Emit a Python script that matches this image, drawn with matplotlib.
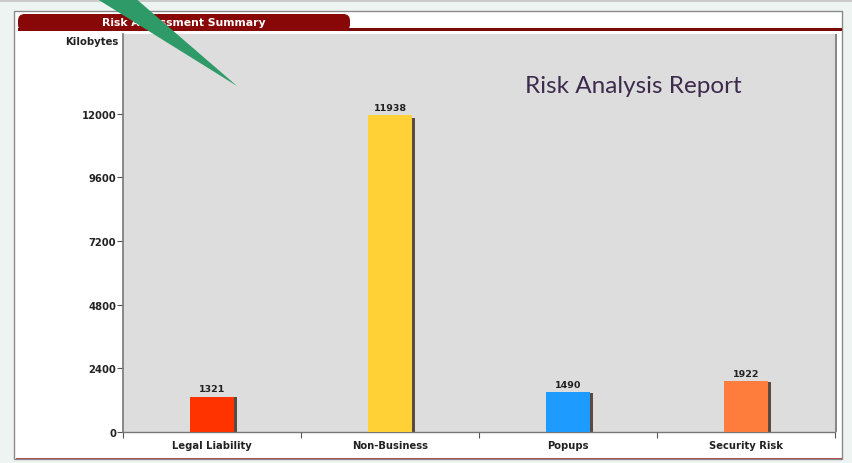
import matplotlib
matplotlib.use('Agg')
import matplotlib.pyplot as plt
from matplotlib.patches import Rectangle, FancyBboxPatch, Polygon

# 数据
categories = ['Legal Liability', 'Non-Business', 'Popups', 'Security Risk']
kilobytes = [1321, 11938, 1490, 1922]
bar_colors = ['#ff3300', '#ffd136', '#1e9bff', '#ff7d3c']
y_ticks = [0, 2400, 4800, 7200, 9600, 12000]

W, H = 852, 464
FONT = 'DejaVu Sans'
TXT = '#222222'


def px(x, y):
    """像素坐标(左上为原点) -> figure坐标"""
    return x / W, 1 - y / H


fig = plt.figure(figsize=(W / 100, H / 100), dpi=100, facecolor='#eef4f1')

# 顶部灰条
fig.patches.append(Rectangle(px(0, 3), 1, 3 / H, transform=fig.transFigure,
                             facecolor='#c9ccca', edgecolor='none', zorder=-3))

# 白色面板
x0, y0 = px(14, 460)
fig.patches.append(Rectangle((x0, y0), (842 - 14) / W, (460 - 12) / H,
                             transform=fig.transFigure, facecolor='white',
                             edgecolor='#8a8a8a', linewidth=1.0, zorder=-3))
# 底部红线
fig.patches.append(Rectangle(px(16, 460), (842 - 16) / W, 1.5 / H,
                             transform=fig.transFigure, facecolor='#b05050',
                             edgecolor='none', zorder=-2))

# 标题栏 + 红线
fig.patches.append(Rectangle(px(18, 32), (842 - 18) / W, 3 / H,
                             transform=fig.transFigure, facecolor='#7a0a0a',
                             edgecolor='none', zorder=-2))
tx, ty = px(18, 32)
fig.patches.append(FancyBboxPatch((tx, ty), (350 - 18) / W, (32 - 15) / H,
                                  boxstyle='round,pad=0,rounding_size=0.008',
                                  transform=fig.transFigure, facecolor='#880808',
                                  edgecolor='none', zorder=-2, mutation_aspect=1.8))
fig.text(*px(184, 23), 'Risk Assessment Summary', color='white', fontsize=7.8,
         fontweight='bold', family=FONT, ha='center', va='center', zorder=3)

# 绘图区
ax_l, ax_b = px(123, 433)
ax = fig.add_axes([ax_l, ax_b, (835 - 123) / W, (433 - 35) / H])
ax.set_zorder(2)
ax.set_facecolor('#dddddd')
x = list(range(len(categories)))

# 柱子阴影 + 柱子
ax.bar([i + 0.017 for i in x], [v * 0.99 for v in kilobytes], width=0.242,
       color='#5a4a40', zorder=2)
bars = ax.bar(x, kilobytes, width=0.242, color=bar_colors, zorder=3)
for i, v in enumerate(kilobytes):
    ax.annotate(str(v), (i, v), xytext=(0, 2.5), textcoords='offset points',
                ha='center', va='bottom', fontsize=6.8, fontweight='bold',
                family=FONT, color=TXT)

ax.set_xlim(-0.5, len(categories) - 0.5)
ax.set_ylim(0, 15000)
ax.set_yticks(y_ticks)
ax.set_yticklabels([str(t) for t in y_ticks], fontsize=7.2, fontweight='bold',
                   family=FONT, color=TXT)
ax.set_xticks(x)
ax.set_xticklabels(categories, fontsize=7.2, fontweight='bold',
                   family=FONT, color=TXT)
ax.tick_params(axis='x', length=0, pad=6)
ax.tick_params(axis='y', length=4, width=0.8, color='#555555', pad=1)
# 分类边界刻度
ax.set_xticks([i - 0.5 for i in range(len(categories) + 1)], minor=True)
ax.tick_params(axis='x', which='minor', length=4, width=0.8, color='#555555')

for s in ['top', 'right']:
    ax.spines[s].set_visible(False)
ax.spines['left'].set_color('#777777')
ax.spines['bottom'].set_color('#777777')
ax.spines['left'].set_linewidth(1.2)
ax.spines['bottom'].set_linewidth(1.0)

fig.text(*px(118, 42), 'Kilobytes', fontsize=7.3, fontweight='bold',
         family=FONT, color=TXT, ha='right', va='center')

# 右侧边框
fig.patches.append(Rectangle(px(835, 433), 1.5 / W, (433 - 35) / H,
                             transform=fig.transFigure, facecolor='#888888',
                             edgecolor='none', zorder=4))

# 标注文字
fig.text(*px(633, 93), 'Risk Analysis Report', fontsize=17.5, family='Lato',
         color='#3d2a4c', ha='center', va='baseline', zorder=6)

# 绿色箭头
arrow = Polygon([px(94, -2), px(134, -2), px(237, 87)], closed=True,
                transform=fig.transFigure, facecolor='#2e9a68',
                edgecolor='none', zorder=10)
fig.patches.append(arrow)

fig.savefig('out.png', dpi=100, facecolor=fig.get_facecolor())
